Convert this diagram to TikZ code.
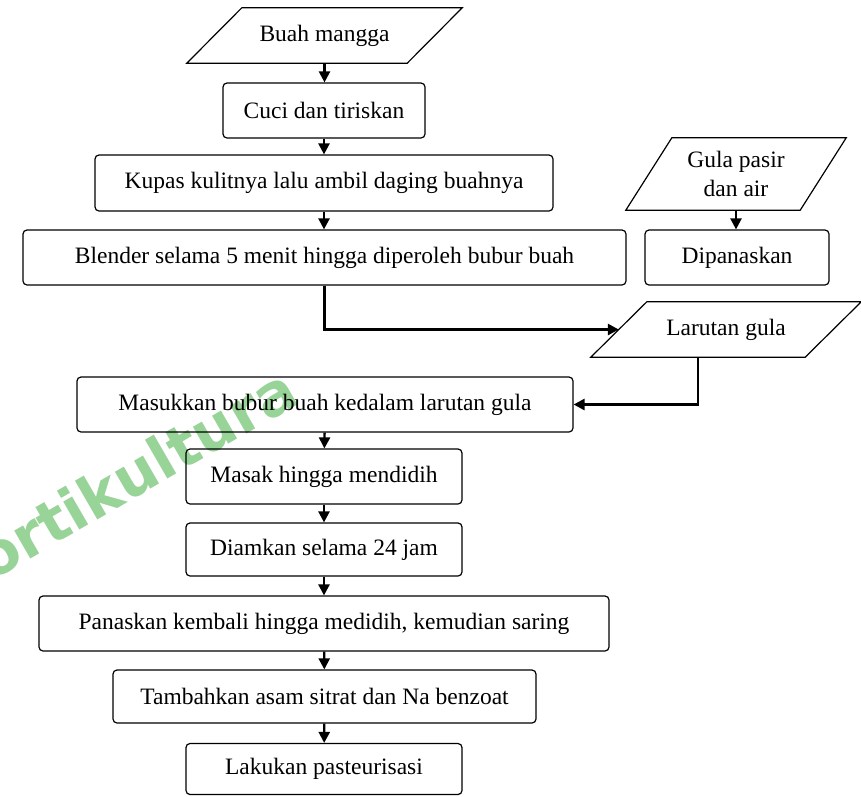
\documentclass[tikz,border=0pt]{standalone}
\usepackage{fontspec}
\setmainfont{Liberation Serif}
\newfontfamily\wmfont{DejaVu Sans}
\usetikzlibrary{arrows.meta,calc}
\definecolor{wmgreen}{RGB}{118,196,118}
\begin{document}
\begin{tikzpicture}[x=1pt,y=-1pt,
  txt/.style={font=\fontsize{23.5}{28.5}\selectfont, align=center, inner sep=0pt},
  procbox/.style={txt, draw, line width=1.2pt, rounded corners=4pt},
  iobox/.style={txt},
  ioframe/.style={draw, line width=1.2pt, line join=miter},
  arr/.style={line width=2.3pt, -{Triangle[width=11pt,length=11pt]}},
]
\useasboundingbox (0,0) rectangle (861,796);

% watermark
\node[rotate=30, anchor=base east, text=wmgreen, opacity=0.75,
      font=\wmfont\bfseries\fontsize{59}{60}\selectfont, inner sep=0pt] (wm) at (302,402) {Hortikultura};

% input / output shapes
\node[iobox, minimum width=220pt, minimum height=55pt] (buah) at (324.5,35.5) {Buah mangga};
\draw[ioframe] ([xshift=27.5pt]buah.north west) -- ([xshift=27.5pt]buah.north east)
  -- ([xshift=-27.5pt]buah.south east) -- ([xshift=-27.5pt]buah.south west) -- cycle;

\node[iobox, minimum width=174pt, minimum height=72pt] (gula) at (736,174) {Gula pasir\\dan air};
\draw[ioframe] ([xshift=23pt]gula.north west) -- ([xshift=23pt]gula.north east)
  -- ([xshift=-23pt]gula.south east) -- ([xshift=-23pt]gula.south west) -- cycle;

\node[iobox, minimum width=214pt, minimum height=55pt] (larutan) at (726,329.5) {Larutan gula};
\draw[ioframe] ([xshift=28pt]larutan.north west) -- ([xshift=28pt]larutan.north east)
  -- ([xshift=-28pt]larutan.south east) -- ([xshift=-28pt]larutan.south west) -- cycle;

% process boxes
\node[procbox, minimum width=202pt, minimum height=55pt] (cuci) at (324,110.5) {Cuci dan tiriskan};
\node[procbox, minimum width=458pt, minimum height=56pt] (kupas) at (324,183) {Kupas kulitnya lalu ambil daging buahnya};
\node[procbox, minimum width=603pt, minimum height=55pt] (blender) at (324.5,257.5) {Blender selama 5 menit hingga diperoleh bubur buah};
\node[procbox, minimum width=184pt, minimum height=55pt] (dipanaskan) at (737,257.5) {Dipanaskan};
\node[procbox, minimum width=496pt, minimum height=55pt] (masukkan) at (325,404.5) {Masukkan bubur buah kedalam larutan gula};
\node[procbox, minimum width=276pt, minimum height=55pt] (masak) at (324,476.5) {Masak hingga mendidih};
\node[procbox, minimum width=276pt, minimum height=53pt] (diamkan) at (324,549.5) {Diamkan selama 24 jam};
\node[procbox, minimum width=570pt, minimum height=55pt] (panaskan) at (324,623.5) {Panaskan kembali hingga medidih, kemudian saring};
\node[procbox, minimum width=423pt, minimum height=53pt] (tambahkan) at (324.5,696.5) {Tambahkan asam sitrat dan Na benzoat};
\node[procbox, minimum width=276pt, minimum height=51pt] (lakukan) at (324,769) {Lakukan pasteurisasi};

% connectors
\draw[arr] (buah.south) -- (buah.south |- cuci.north);
\draw[arr] (cuci) -- (kupas);
\draw[arr] (kupas.south) -- (kupas.south |- blender.north);
\draw[arr] (gula.south) -- (gula.south |- dipanaskan.north);
\draw[arr, line width=3pt] (blender.south) |- (larutan.west);
\draw[arr, line width=2.6pt] ([xshift=-28pt]larutan.south) |- (masukkan.east);
\draw[arr] (masukkan) -- (masak);
\draw[arr] (masak) -- (diamkan);
\draw[arr] (diamkan) -- (panaskan);
\draw[arr] (panaskan) -- (tambahkan);
\draw[arr] (tambahkan) -- (lakukan);
\end{tikzpicture}
\end{document}
